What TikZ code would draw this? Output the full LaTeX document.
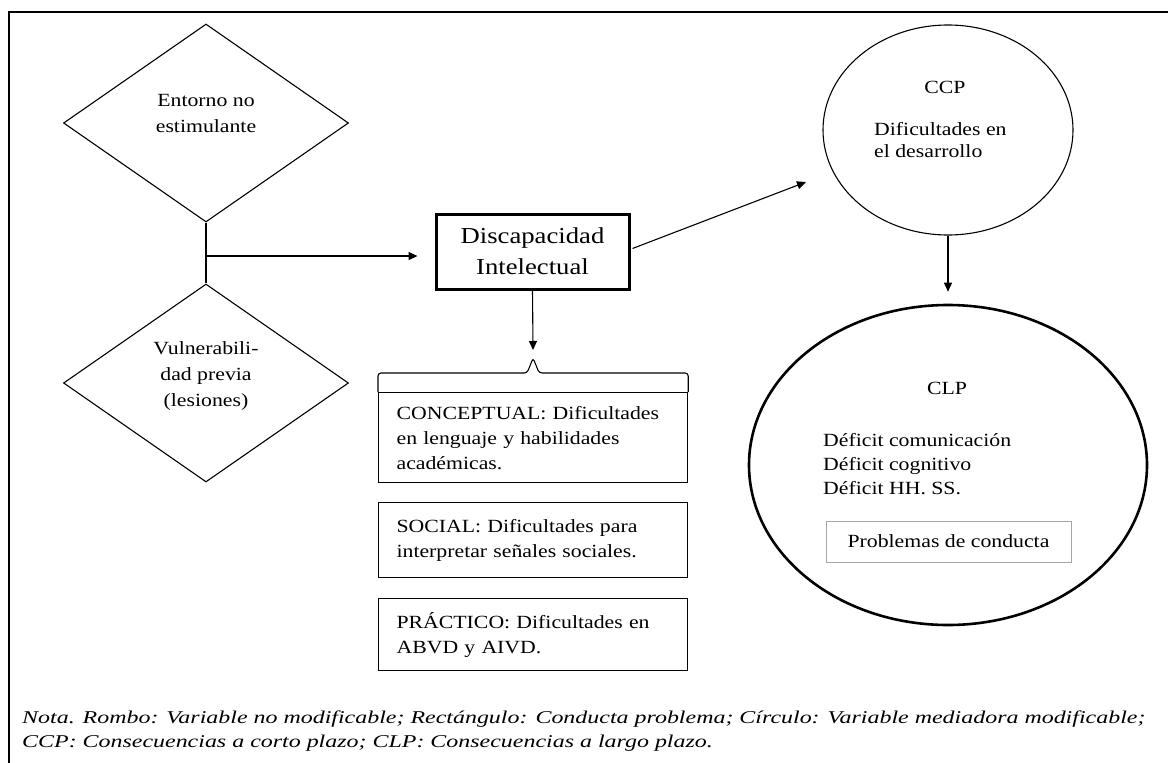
\documentclass[tikz,border=0pt]{standalone}
\usepackage{fontspec}
\setmainfont[FakeStretch=1.17]{Liberation Serif}
\newfontfamily\notafont[FakeStretch=1.33]{Liberation Serif}
\usetikzlibrary{shapes.geometric,arrows.meta,calc,positioning}

\begin{document}
\begin{tikzpicture}[x=1pt, y=-1pt,
  every node/.style={inner sep=0pt},
  txt/.style={font=\fontsize{18.6}{25}\selectfont},
  rombo/.style={diamond, draw, line width=1.1pt, minimum width=285pt, minimum height=198pt, txt, align=center},
  caja/.style={draw, line width=1.2pt, minimum width=309pt, anchor=north west, txt, align=left, text width=273pt},
  elipse/.style={ellipse, draw, line width=1.1pt},
  flecha/.style={line width=1.1pt, -{Triangle[length=9pt,width=8pt]}}]
\useasboundingbox (0,0) rectangle (1168,763);
\draw[line width=1.1pt] (9,763) -- (9,12) -- (1168,12);
% rombos
\node[rombo] (entorno) at (206,123) {};
\node[txt, align=center, font=\fontsize{18.6}{26}\selectfont] (entornotxt) at (206,113) {Entorno no\\estimulante};
\node[rombo] (vulner) at (206,383) {};
\node[txt, align=center, font=\fontsize{18.6}{26}\selectfont] (vulnertxt) at (206,376) {Vulnerabili-\\dad previa\\(lesiones)};
% discapacidad
\node[draw, line width=3pt, minimum width=193pt, minimum height=75pt, align=center,
  font=\fontsize{22.8}{31}\selectfont] (di) at (532.5,251.5) {Discapacidad\\Intelectual};
% cajas
\node[caja, minimum height=90pt] (concep) at (378,392) {CONCEPTUAL: Dificultades\\en lenguaje y habilidades\\académicas.};
\node[caja, minimum height=75pt] (social) at (378,502) {SOCIAL: Dificultades para\\interpretar señales sociales.};
\node[caja, minimum height=72pt] (practico) at (378,598) {PRÁCTICO: Dificultades en\\ABVD y AIVD.};
\coordinate (llave) at ($(concep.north)+(0,-34)$);
\draw[line width=1.1pt, rounded corners=3pt] (concep.north west) -- ++(0,-19) -- ($(concep.north)+(-6,-19)$)
  -- (llave) -- ($(concep.north)+(6,-19)$) -- ($(concep.north east)+(0,-19)$) -- (concep.north east);
% circulos
\node[elipse, minimum width=250pt, minimum height=210pt] (ccp) at (948,130) {};
\node[txt] (ccptit) at (945,87) {CCP};
\node[txt, align=left, anchor=north west, font=\fontsize{18.6}{22}\selectfont] (ccptxt) at (874,122) {Dificultades en\\el desarrollo};
\node[elipse, line width=2.6pt, minimum width=398pt, minimum height=320pt] (clp) at (948,465) {};
\node[txt] (clptit) at (947,388) {CLP};
\node[txt, align=left, anchor=west, font=\fontsize{18.6}{24}\selectfont] (clptxt) at (823,464) {Déficit comunicación\\Déficit cognitivo\\Déficit HH. SS.};
\node[draw=gray!70, line width=0.8pt, minimum width=245pt, minimum height=41pt, txt] (conducta) at (948.5,541.5) {Problemas de conducta};
% flechas
\coordinate (union) at ($(entorno.south)!0.55!(vulner.north)$);
\draw[line width=1.1pt] (entorno.south) -- (vulner.north);
\draw[flecha, shorten >=17pt] (union) -- (union -| di.west);
\coordinate (ccpin) at (806,182);
\draw[flecha] ($(di.east)+(2,-3)$) -- (ccpin);
\draw[flecha, shorten >=8pt] (di.south) -- (llave);
\draw[flecha, shorten >=12pt] (ccp.south) -- (clp.north);
% nota
\node[anchor=base west, font=\notafont\itshape\fontsize{18}{24}\selectfont] (nota1) at (22,723) {Nota. Rombo: Variable no modificable; Rectángulo: Conducta problema; Círculo: Variable mediadora modificable;};
\node[anchor=base west, font=\notafont\itshape\fontsize{18}{24}\selectfont] (nota2) at (22,747) {CCP: Consecuencias a corto plazo; CLP: Consecuencias a largo plazo.};
\end{tikzpicture}
\end{document}
